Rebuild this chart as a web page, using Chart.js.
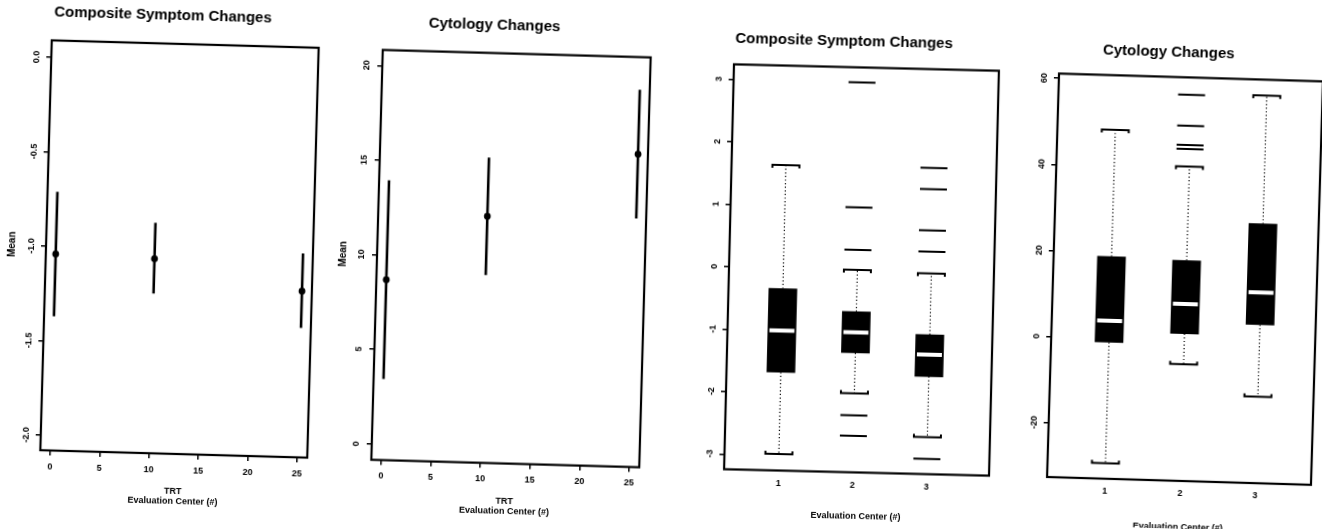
<!DOCTYPE html>
<html>
<head>
<meta charset="utf-8">
<script src="https://cdn.jsdelivr.net/npm/chart.js@4.4.1/dist/chart.umd.min.js"></script>
<style>
  html, body { margin: 0; padding: 0; background: #fff; width: 1322px; height: 529px; overflow: hidden; }
  .panel { position: absolute; top: 0; }
  .panel canvas { display: block; }
</style>
</head>
<body>
<div class="panel" id="p1"><canvas id="c1"></canvas></div>
<div class="panel" id="p2"><canvas id="c2"></canvas></div>
<div class="panel" id="p3"><canvas id="c3"></canvas></div>
<div class="panel" id="p4"><canvas id="c4"></canvas></div>
<script>
// ---- Mean and interval by treatment (TRT) ----
const trtDoses = [0, 10, 25];
const trtTicks = [0, 5, 10, 15, 20, 25];

const symptomMean  = [-1.04, -1.05, -1.20];
const symptomLower = [-1.37, -1.235, -1.395];
const symptomUpper = [-0.71, -0.86, -1.00];
const symptomMeanTicks = [0, -0.5, -1, -1.5, -2];
const symptomMeanTickLabels = ['0.0', '-0.5', '-1.0', '-1.5', '-2.0'];

const cytologyMean  = [8.7, 12.2, 15.7];
const cytologyLower = [3.45, 9.1, 12.3];
const cytologyUpper = [13.95, 15.3, 19.1];
const cytologyMeanTicks = [0, 5, 10, 15, 20];
const cytologyMeanTickLabels = ['0', '5', '10', '15', '20'];

// ---- Distribution by evaluation center ----
const centers = [1, 2, 3];
const centerLabels = ['1', '2', '3'];

const symptomQ1 = [-1.67, -1.33, -1.68];
const symptomMedian = [-1.0, -1.0, -1.33];
const symptomQ3 = [-0.33, -0.67, -1.01];
const symptomWhiskerLow = [-2.98, -1.98, -2.65];
const symptomWhiskerHigh = [1.65, 0.0, -0.03];
const symptomOutliers = [[], [3.0, 1.0, 0.32, -2.33, -2.66], [1.66, 1.32, 0.66, 0.32, -3.0]];
const symptomBoxTicks = [3, 2, 1, 0, -1, -2, -3];
const symptomBoxTickLabels = ['3', '2', '1', '0', '-1', '-2', '-3'];

const cytologyQ1 = [-0.9, 1.6, 4.2];
const cytologyMedian = [4.1, 8.5, 11.7];
const cytologyQ3 = [19.0, 18.6, 27.6];
const cytologyWhiskerLow = [-29.0, -5.5, -12.5];
const cytologyWhiskerHigh = [48.4, 40.4, 57.4];
const cytologyOutliers = [[], [57.1, 49.9, 45.4, 44.5], []];
const cytologyBoxTicks = [60, 40, 20, 0, -20];
const cytologyBoxTickLabels = ['60', '40', '20', '0', '-20'];

// ---- Page layout ----
const FONT = '"Liberation Sans", Arial, Helvetica, sans-serif';
const PAGE_H = 529;
const SIDE = 46;          // room left of each plot frame for tick labels and axis title
const LABEL_LH = 10.8;    // line height of 9px axis text

const layouts = {
  c1: { box: { l: 46,     t: 44,   r: 313,    b: 454   }, rot: 1.6, titleGap: 28,   xTitleGap: 48,   yLabelGap: 14.5, xr: [-1, 26],       yr: [-2.08, 0.09] },
  c2: { box: { l: 377,    t: 53.6, r: 645.4,  b: 463.6 }, rot: 1.6, titleGap: 27.7, xTitleGap: 48.3, yLabelGap: 15.5, xr: [-1, 26],       yr: [-0.83, 20.83] },
  c3: { box: { l: 728.8,  t: 67.5, r: 993.8,  b: 472.5 }, rot: 1.4, titleGap: 25.8, xTitleGap: 44.4, yLabelGap: 14.5, xr: [0.265, 3.845], yr: [-3.243, 3.242] },
  c4: { box: { l: 1052.7, t: 77.4, r: 1316.8, b: 481   }, rot: 1.7, titleGap: 24.4, xTitleGap: 46.2, yLabelGap: 14.5, xr: [0.23, 3.74],   yr: [-32.6, 61.1] }
};

// Frame around the plot region plus y tick labels written along the axis (R style)
const framePlugin = {
  id: 'frame',
  afterDraw(chart, args, opts) {
    const { ctx, chartArea: a } = chart;
    const ys = chart.scales.y;
    ctx.save();
    ctx.strokeStyle = '#000';
    ctx.lineWidth = 2.2;
    ctx.strokeRect(a.left, a.top, a.right - a.left, a.bottom - a.top);
    ctx.fillStyle = '#000';
    ctx.font = 'bold 9px ' + FONT;
    ctx.textAlign = 'center';
    ctx.textBaseline = 'middle';
    opts.values.forEach((v, i) => {
      ctx.save();
      ctx.translate(a.left - opts.gap, ys.getPixelForValue(v));
      ctx.rotate(-Math.PI / 2);
      ctx.fillText(opts.labels[i], 0, 0);
      ctx.restore();
    });
    ctx.restore();
  }
};

function placePanel(id) {
  const L = layouts[id];
  const bw = L.box.r - L.box.l, bh = L.box.b - L.box.t;
  const w = bw + 2 * SIDE;
  const div = document.getElementById('p' + id.slice(1));
  div.style.left = (L.box.l - SIDE) + 'px';
  div.style.width = w + 'px';
  div.style.height = PAGE_H + 'px';
  div.style.transformOrigin = (SIDE + bw / 2) + 'px ' + (L.box.t + bh / 2) + 'px';
  div.style.transform = 'rotate(' + L.rot + 'deg)';
  const cv = document.getElementById(id);
  cv.width = w; cv.height = PAGE_H;
  return { L, bw, bh, w };
}

function buildChart(id, o) {
  const { L } = placePanel(id);
  const xAxisH = L.xTitleGap + LABEL_LH / 2;
  const tickFont = { family: FONT, size: 9, weight: 'bold' };
  return new Chart(document.getElementById(id), {
    type: o.type,
    data: { datasets: o.datasets },
    options: {
      responsive: false,
      animation: false,
      devicePixelRatio: 1,
      events: [],
      layout: { padding: { left: 0, right: SIDE, top: 0, bottom: PAGE_H - L.box.b - xAxisH } },
      plugins: {
        legend: { display: false },
        tooltip: { enabled: false },
        title: {
          display: true, text: o.title, color: '#000',
          font: { family: FONT, size: 15, weight: 'bold', lineHeight: 1.2 },
          padding: { top: L.box.t - L.titleGap - 9, bottom: L.titleGap - 9 }
        },
        frame: { values: o.yTicks, labels: o.yTickLabels, gap: L.yLabelGap }
      },
      scales: {
        x: {
          type: 'linear', min: L.xr[0], max: L.xr[1], offset: false,
          afterBuildTicks: s => { s.ticks = o.xTicks.map(v => ({ value: v })); },
          afterFit: s => { s.height = xAxisH; },
          ticks: {
            color: '#000', font: tickFont, padding: o.xTickMarks ? 6 : 2.6,
            maxRotation: 0, autoSkip: false,
            callback: (v, i) => o.xTickLabels[i]
          },
          grid: { display: o.xTickMarks, drawOnChartArea: false, drawTicks: true, tickLength: 5, color: '#000', lineWidth: 1.5, offset: false },
          border: { display: false },
          title: { display: true, text: o.xTitle, color: '#000', font: { family: FONT, size: 9, weight: 'bold' }, padding: { top: 0, bottom: 0 } }
        },
        y: {
          type: 'linear', min: L.yr[0], max: L.yr[1],
          afterBuildTicks: s => { s.ticks = o.yTicks.map(v => ({ value: v })); },
          afterFit: s => { s.width = SIDE; },
          ticks: { display: false },
          grid: { display: true, drawOnChartArea: false, drawTicks: true, tickLength: 5, color: '#000', lineWidth: 1.5 },
          border: { display: false },
          title: { display: !!o.yTitle, text: o.yTitle || '', color: '#000', font: { family: FONT, size: 10, weight: 'bold' }, padding: { top: 6, bottom: 0 } }
        }
      }
    },
    plugins: [framePlugin]
  });
}

// ---- Mean ± interval panels ----
function intervalDatasets(x, mean, lo, hi) {
  const bars = [];
  x.forEach((v, i) => { bars.push({ x: v, y: lo[i] }, { x: v, y: hi[i] }, { x: v, y: null }); });
  return [
    { type: 'scatter', data: x.map((v, i) => ({ x: v, y: mean[i] })), pointRadius: 3.4, pointBackgroundColor: '#000', pointBorderWidth: 0, order: 0 },
    { type: 'line', data: bars, borderColor: '#000', borderWidth: 2.6, pointRadius: 0, spanGaps: false, tension: 0, order: 1 }
  ];
}

buildChart('c1', {
  type: 'scatter', title: 'Composite Symptom Changes',
  datasets: intervalDatasets(trtDoses, symptomMean, symptomLower, symptomUpper),
  xTicks: trtTicks, xTickLabels: trtTicks.map(String), xTickMarks: true,
  xTitle: ['TRT', 'Evaluation Center (#)'], yTitle: 'Mean',
  yTicks: symptomMeanTicks, yTickLabels: symptomMeanTickLabels
});

buildChart('c2', {
  type: 'scatter', title: 'Cytology Changes',
  datasets: intervalDatasets(trtDoses, cytologyMean, cytologyLower, cytologyUpper),
  xTicks: trtTicks, xTickLabels: trtTicks.map(String), xTickMarks: true,
  xTitle: ['TRT', 'Evaluation Center (#)'], yTitle: 'Mean',
  yTicks: cytologyMeanTicks, yTickLabels: cytologyMeanTickLabels
});

// ---- Box plot panels ----
function boxDatasets(id, q1, med, q3, wLo, wHi, outliers) {
  const L = layouts[id];
  const xPerPx = (L.xr[1] - L.xr[0]) / (L.box.r - L.box.l);
  const yPerPx = (L.yr[1] - L.yr[0]) / (L.box.b - L.box.t);
  const capHalf = 13.5 * xPerPx;   // whisker cap / outlier dash half width
  const medHalf = 12.5 * xPerPx;   // median stripe half width
  const bend = 3 * yPerPx;         // bracket end length

  const boxes = centers.map((c, i) => ({ x: c, y: [q1[i], q3[i]] }));
  const medians = [], whiskers = [], caps = [], outs = [];
  centers.forEach((c, i) => {
    medians.push({ x: c - medHalf, y: med[i] }, { x: c + medHalf, y: med[i] }, { x: c, y: null });
    whiskers.push({ x: c, y: q3[i] }, { x: c, y: wHi[i] }, { x: c, y: null });
    whiskers.push({ x: c, y: q1[i] }, { x: c, y: wLo[i] }, { x: c, y: null });
    caps.push({ x: c - capHalf, y: wHi[i] - bend }, { x: c - capHalf, y: wHi[i] }, { x: c + capHalf, y: wHi[i] }, { x: c + capHalf, y: wHi[i] - bend }, { x: c, y: null });
    caps.push({ x: c - capHalf, y: wLo[i] + bend }, { x: c - capHalf, y: wLo[i] }, { x: c + capHalf, y: wLo[i] }, { x: c + capHalf, y: wLo[i] + bend }, { x: c, y: null });
    outliers[i].forEach(v => { outs.push({ x: c - capHalf, y: v }, { x: c + capHalf, y: v }, { x: c, y: null }); });
  });
  const seg = (data, color, width, dash, order) => ({
    type: 'line', data, borderColor: color, borderWidth: width, borderDash: dash,
    pointRadius: 0, spanGaps: false, tension: 0, order
  });
  return [
    seg(medians, '#fff', 4, [], 0),
    { type: 'bar', data: boxes, backgroundColor: '#000', borderWidth: 0, barThickness: 28, grouped: false, order: 1 },
    seg(caps, '#000', 2, [], 2),
    seg(outs, '#000', 2, [], 2),
    seg(whiskers, '#000', 1.2, [1.2, 2.4], 3)
  ];
}

buildChart('c3', {
  type: 'bar', title: 'Composite Symptom Changes',
  datasets: boxDatasets('c3', symptomQ1, symptomMedian, symptomQ3, symptomWhiskerLow, symptomWhiskerHigh, symptomOutliers),
  xTicks: centers, xTickLabels: centerLabels, xTickMarks: false,
  xTitle: 'Evaluation Center (#)',
  yTicks: symptomBoxTicks, yTickLabels: symptomBoxTickLabels
});

buildChart('c4', {
  type: 'bar', title: 'Cytology Changes',
  datasets: boxDatasets('c4', cytologyQ1, cytologyMedian, cytologyQ3, cytologyWhiskerLow, cytologyWhiskerHigh, cytologyOutliers),
  xTicks: centers, xTickLabels: centerLabels, xTickMarks: false,
  xTitle: 'Evaluation Center (#)',
  yTicks: cytologyBoxTicks, yTickLabels: cytologyBoxTickLabels
});
</script>
</body>
</html>
